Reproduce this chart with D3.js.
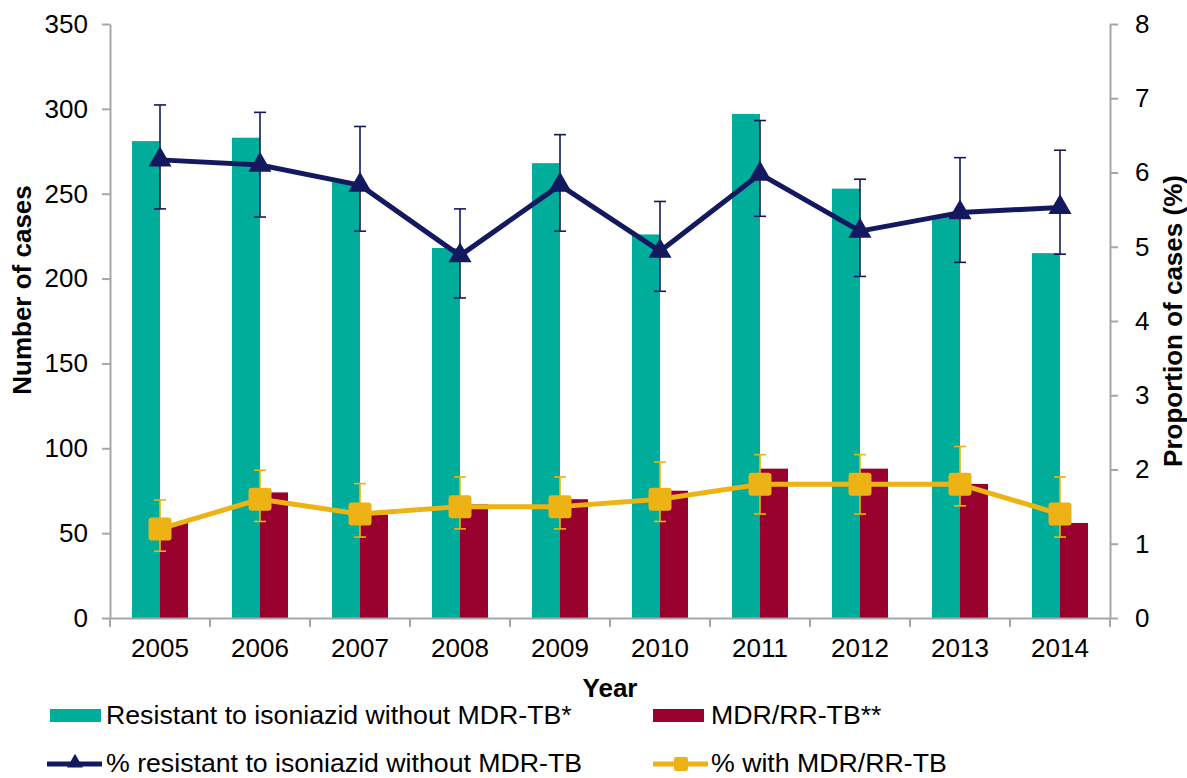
<!DOCTYPE html>
<html>
<head>
<meta charset="utf-8">
<script src="https://cdn.jsdelivr.net/npm/d3@7"></script>
<style>
  html, body { margin: 0; padding: 0; background: #fff; }
  svg { display: block; font-family: "Liberation Sans", Arial, sans-serif; }
</style>
</head>
<body>
<svg id="chart" width="1187" height="778"></svg>
<script>
// ---- data ----
const years = ["2005","2006","2007","2008","2009","2010","2011","2012","2013","2014"];
const resistantCounts = [281, 283, 257, 218, 268, 226, 297, 253, 237, 215];
const mdrCounts = [56, 74, 61, 67, 70, 75, 88, 88, 79, 56];
const pctResistant = [6.17, 6.10, 5.83, 4.88, 5.83, 4.94, 5.98, 5.21, 5.46, 5.53];
const pctResistantLow = [5.51, 5.40, 5.21, 4.31, 5.21, 4.40, 5.41, 4.60, 4.79, 4.90];
const pctResistantHigh = [6.91, 6.81, 6.62, 5.51, 6.51, 5.61, 6.70, 5.91, 6.20, 6.30];
const pctMdr = [1.2, 1.6, 1.4, 1.5, 1.5, 1.6, 1.8, 1.8, 1.8, 1.4];
const pctMdrLow = [0.90, 1.30, 1.09, 1.20, 1.20, 1.30, 1.40, 1.40, 1.51, 1.09];
const pctMdrHigh = [1.59, 1.99, 1.81, 1.90, 1.90, 2.10, 2.20, 2.20, 2.31, 1.90];
const leftTicks = [0, 50, 100, 150, 200, 250, 300, 350];
const rightTicks = [0, 1, 2, 3, 4, 5, 6, 7, 8];
const seriesNames = ["Resistant to isoniazid without MDR-TB*", "MDR/RR-TB**",
                     "% resistant to isoniazid without MDR-TB", "% with MDR/RR-TB"];

// ---- style ----
const TEAL = "#00AD9B", RED = "#98002E", NAVY = "#14195F", GOLD = "#EDB213", AXIS = "#A6A6A6";
const FONT = 26;

const svg = d3.select("#chart");
const x = d3.scaleBand().domain(years).range([110, 1110]).padding(0);
const yL = d3.scaleLinear().domain([0, 350]).range([618, 24]);
const yR = d3.scaleLinear().domain([0, 8]).range([618, 24]);
const barW = x.bandwidth() * 0.28;
const cx = d => x(d) + x.bandwidth() / 2;

// ---- bars ----
svg.append("g").selectAll("rect").data(years).join("rect")
  .attr("x", (d) => cx(d) - barW).attr("width", barW)
  .attr("y", (d, i) => yL(resistantCounts[i]))
  .attr("height", (d, i) => yL(0) - yL(resistantCounts[i]))
  .attr("fill", TEAL);
svg.append("g").selectAll("rect").data(years).join("rect")
  .attr("x", (d) => cx(d)).attr("width", barW)
  .attr("y", (d, i) => yL(mdrCounts[i]))
  .attr("height", (d, i) => yL(0) - yL(mdrCounts[i]))
  .attr("fill", RED);

// ---- axes ----
function styleAxis(g) {
  g.selectAll("path.domain").attr("stroke", AXIS).attr("stroke-width", 2);
  g.selectAll(".tick line").attr("stroke", AXIS).attr("stroke-width", 2);
  g.selectAll(".tick text").attr("font-size", FONT).attr("fill", "#000")
    .attr("font-family", "'Liberation Sans', Arial, sans-serif");
}
const gL = svg.append("g").attr("transform", "translate(110,0)")
  .call(d3.axisLeft(yL).tickValues(leftTicks).tickSize(8).tickSizeOuter(0).tickPadding(14));
styleAxis(gL);
const gR = svg.append("g").attr("transform", "translate(1110,0)")
  .call(d3.axisRight(yR).tickValues(rightTicks).tickSize(8).tickSizeOuter(0).tickPadding(17));
styleAxis(gR);
const gB = svg.append("g").attr("transform", "translate(0,618)")
  .call(d3.axisBottom(x).tickSize(0).tickSizeOuter(0).tickPadding(21));
styleAxis(gB);
// boundary tick marks
const bounds = years.map(d => x(d)).concat([x.range()[1]]);
svg.append("g").selectAll("line").data(bounds).join("line")
  .attr("x1", d => d).attr("x2", d => d).attr("y1", 618).attr("y2", 627)
  .attr("stroke", AXIS).attr("stroke-width", 2);

// ---- lines with error bars ----
function series(vals, low, high, color, lineW) {
  const g = svg.append("g");
  const eb = g.append("g");
  years.forEach((d, i) => {
    const X = cx(d);
    eb.append("line").attr("x1", X).attr("x2", X).attr("y1", yR(low[i])).attr("y2", yR(high[i]))
      .attr("stroke", color).attr("stroke-width", 1.6);
    [low[i], high[i]].forEach(v => eb.append("line").attr("x1", X - 6).attr("x2", X + 6)
      .attr("y1", yR(v)).attr("y2", yR(v)).attr("stroke", color).attr("stroke-width", 1.6));
  });
  const line = d3.line().x((d) => cx(d)).y((d, i) => yR(vals[i]));
  g.append("path").datum(years).attr("d", line).attr("fill", "none")
    .attr("stroke", color).attr("stroke-width", lineW).attr("stroke-linejoin", "round");
  return g;
}
const gNavy = series(pctResistant, pctResistantLow, pctResistantHigh, NAVY, 5);
gNavy.append("g").selectAll("path").data(years).join("path")
  .attr("d", d3.symbol().type(d3.symbolTriangle).size(230))
  .attr("transform", (d, i) => `translate(${cx(d)},${yR(pctResistant[i])})`)
  .attr("fill", NAVY);
const gGold = series(pctMdr, pctMdrLow, pctMdrHigh, GOLD, 5);
gGold.append("g").selectAll("rect").data(years).join("rect")
  .attr("x", d => cx(d) - 11.5).attr("width", 23)
  .attr("y", (d, i) => yR(pctMdr[i]) - 11.5).attr("height", 23)
  .attr("rx", 3).attr("fill", GOLD);

// ---- axis titles ----
svg.append("text").attr("transform", "translate(31,290) rotate(-90)")
  .attr("text-anchor", "middle").attr("font-size", FONT).attr("font-weight", "bold")
  .text("Number of cases");
svg.append("text").attr("transform", "translate(1182,321) rotate(-90)")
  .attr("text-anchor", "middle").attr("font-size", FONT).attr("font-weight", "bold")
  .text("Proportion of cases (%)");
svg.append("text").attr("x", 610).attr("y", 697)
  .attr("text-anchor", "middle").attr("font-size", FONT).attr("font-weight", "bold")
  .text("Year");

// ---- legend ----
const leg = svg.append("g").attr("font-size", 26.7);
leg.append("rect").attr("x", 50).attr("y", 709).attr("width", 51).attr("height", 13).attr("fill", TEAL);
leg.append("text").attr("x", 106).attr("y", 724).text(seriesNames[0]);
leg.append("rect").attr("x", 653).attr("y", 709).attr("width", 51).attr("height", 13).attr("fill", RED);
leg.append("text").attr("x", 711).attr("y", 724).text(seriesNames[1]);
leg.append("line").attr("x1", 47).attr("x2", 102).attr("y1", 764).attr("y2", 764)
  .attr("stroke", NAVY).attr("stroke-width", 5);
leg.append("path").attr("d", d3.symbol().type(d3.symbolTriangle).size(110))
  .attr("transform", "translate(75,763)").attr("fill", NAVY);
leg.append("text").attr("x", 106).attr("y", 772).text(seriesNames[2]);
leg.append("line").attr("x1", 653).attr("x2", 708).attr("y1", 764).attr("y2", 764)
  .attr("stroke", GOLD).attr("stroke-width", 5);
leg.append("rect").attr("x", 674).attr("y", 757).attr("width", 14).attr("height", 14)
  .attr("rx", 2).attr("fill", GOLD);
leg.append("text").attr("x", 711).attr("y", 772).text(seriesNames[3]);
</script>
</body>
</html>
